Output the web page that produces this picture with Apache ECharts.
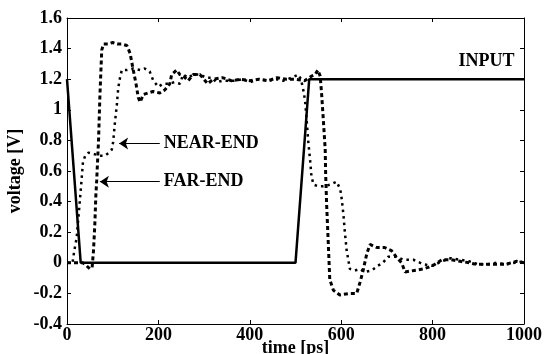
<!DOCTYPE html>
<html>
<head>
<meta charset="utf-8">
<script src="https://cdn.jsdelivr.net/npm/echarts@6/dist/echarts.min.js"></script>
<style>
html,body{margin:0;padding:0;background:#fff;}
#c{width:551px;height:354px;}
</style>
</head>
<body>
<div id="c"></div>
<script>
// ---- data (time [ps], voltage [V]) ----
const inputWave = [[0,1.2],[30,0],[500,0],[530,1.2],[1000,1.2]];

const nearEnd = [
  [0,0],[12,0],[16,0.08],[21,0.16],[26,0.33],[31,0.51],[35,0.66],[40,0.70],[47,0.72],
  [60,0.71],[72,0.70],[83,0.70],[92,0.72],[98,0.74],[101,0.79],[105,0.92],[109,1.03],
  [112,1.14],[116,1.21],[120,1.26],[131,1.26],[145,1.27],[160,1.26],[170,1.27],[181,1.25],
  [189,1.19],[200,1.15],[210,1.17],[221,1.17],[235,1.18],[247,1.17],[254,1.23],[265,1.21],
  [276,1.23],[290,1.23],[305,1.21],[317,1.21],[327,1.18],[340,1.19],[349,1.19],[368,1.19],
  [385,1.20],[400,1.18],[420,1.20],[440,1.19],[460,1.20],[473,1.19],[492,1.21],[506,1.23],
  [512,1.20],[517,1.13],[521,1.06],[525,0.91],[528,0.79],[532,0.67],[535,0.56],[540,0.51],
  [550,0.50],[561,0.50],[575,0.51],[590,0.53],[598,0.48],[601,0.42],[605,0.31],[608,0.20],
  [612,0.08],[619,-0.04],[630,-0.05],[641,-0.04],[652,-0.06],[667,-0.05],[680,-0.02],
  [691,0.00],[703,0.04],[721,0.04],[736,0.02],[758,0.02],[780,-0.01],[800,-0.02],[820,0.01],
  [840,0.03],[860,0.02],[880,0.01],[900,-0.01],[920,-0.01],[940,0.00],[960,-0.01],[980,0.00],
  [1000,0.01]
];

const farEnd = [
  [0,0],[35,0],[43,-0.02],[50,-0.04],[55,-0.03],[58,0.08],[61,0.26],[63,0.43],[65,0.54],
  [67,0.67],[69,0.80],[72,1.09],[76,1.39],[80,1.43],[90,1.43],[100,1.44],[110,1.43],
  [120,1.43],[131,1.42],[138,1.37],[145,1.26],[151,1.17],[156,1.08],[160,1.05],[167,1.10],
  [177,1.11],[188,1.12],[203,1.11],[214,1.13],[225,1.17],[229,1.23],[240,1.26],[247,1.23],
  [255,1.22],[265,1.19],[276,1.23],[291,1.23],[308,1.17],[320,1.20],[340,1.21],[360,1.19],
  [380,1.20],[400,1.19],[420,1.20],[440,1.19],[460,1.21],[480,1.20],[500,1.20],[520,1.19],
  [535,1.22],[543,1.23],[549,1.26],[554,1.22],[557,1.11],[561,0.93],[565,0.74],[566,0.58],
  [568,0.39],[572,0.11],[575,-0.11],[583,-0.18],[597,-0.21],[619,-0.20],[634,-0.20],
  [641,-0.13],[648,-0.05],[656,0.06],[663,0.12],[678,0.10],[695,0.10],[710,0.08],[720,0.04],
  [732,0.00],[740,-0.06],[760,-0.05],[780,-0.04],[790,-0.03],[805,-0.01],[820,0.02],
  [840,0.02],[860,0.01],[880,0.00],[896,-0.01],[920,-0.01],[940,-0.01],[960,-0.01],
  [984,0.01],[1000,0.00]
];

// annotation anchors: [arrow tip, arrow tail] in data coordinates
const nearArrow = [[114,0.78],[203,0.78]];
const farArrow  = [[72,0.53],[203,0.53]];
const inputLabelPos = [918,1.316];

const xTicks = {min:0, max:1000, interval:200};
const yTicks = {min:-0.4, max:1.6, interval:0.2};

const FONT = '"Liberation Serif", "Times New Roman", serif';
const txt = {fontFamily:FONT, fontWeight:'bold', color:'#000', fontSize:18};

const chart = echarts.init(document.getElementById('c'), null, {renderer:'canvas'});

const axisCommon = {
  axisLine:{show:true, onZero:false, lineStyle:{color:'#000', width:1}},
  axisTick:{show:true, inside:true, length:4, lineStyle:{color:'#000', width:1}},
  splitLine:{show:false}
};

chart.setOption({
  animation:false,
  backgroundColor:'#fff',
  grid:{left:67, right:27, top:18, bottom:30, containLabel:false, outerBoundsMode:'none'},
  xAxis:[
    Object.assign({type:'value', position:'bottom', min:xTicks.min, max:xTicks.max, interval:xTicks.interval,
      name:'time [ps]', nameLocation:'middle', nameGap:15, nameMoveOverlap:false,
      nameTextStyle:Object.assign({}, txt, {fontSize:18}),
      axisLabel:Object.assign({}, txt, {margin:2, formatter:function(v){return String(v);}})}, axisCommon),
    Object.assign({type:'value', position:'top', min:xTicks.min, max:xTicks.max, interval:xTicks.interval,
      axisLabel:{show:false}}, axisCommon)
  ],
  yAxis:[
    Object.assign({type:'value', position:'left', min:yTicks.min, max:yTicks.max, interval:yTicks.interval,
      name:'voltage [V]', nameLocation:'middle', nameGap:43, nameMoveOverlap:false,
      nameTextStyle:Object.assign({}, txt, {fontSize:18}),
      axisLabel:Object.assign({}, txt, {margin:5})}, axisCommon),
    Object.assign({type:'value', position:'right', min:yTicks.min, max:yTicks.max, interval:yTicks.interval,
      axisLabel:{show:false}}, axisCommon)
  ],
  series:[
    {
      name:'NEAR-END', type:'line', data:nearEnd, showSymbol:false, symbol:'none',
      lineStyle:{color:'#000', width:2.5, type:[2.5,4], cap:'butt'},
      z:3,
      markLine:{
        silent:true, symbol:['arrow','none'], symbolSize:9,
        lineStyle:{color:'#000', width:1, type:'solid'},
        label:{show:true, position:'end', distance:4, formatter:'NEAR-END', fontFamily:FONT, fontWeight:'bold', fontSize:18, color:'#000'},
        data:[[{coord:nearArrow[0]},{coord:nearArrow[1]}]]
      }
    },
    {
      name:'FAR-END', type:'line', data:farEnd, showSymbol:false, symbol:'none',
      lineStyle:{color:'#000', width:3, type:[4,3], cap:'butt'},
      z:4,
      markLine:{
        silent:true, symbol:['arrow','none'], symbolSize:9,
        lineStyle:{color:'#000', width:1, type:'solid'},
        label:{show:true, position:'end', distance:4, formatter:'FAR-END', fontFamily:FONT, fontWeight:'bold', fontSize:18, color:'#000'},
        data:[[{coord:farArrow[0]},{coord:farArrow[1]}]]
      }
    },
    {
      name:'INPUT', type:'line', data:inputWave, showSymbol:false, symbol:'none',
      lineStyle:{color:'#000', width:2.5, type:'solid'},
      z:5,
      markPoint:{
        silent:true, symbol:'circle', symbolSize:1, itemStyle:{color:'rgba(0,0,0,0)'},
        label:{show:true, position:'inside', formatter:'INPUT', fontFamily:FONT, fontWeight:'bold', fontSize:18, color:'#000'},
        data:[{coord:inputLabelPos}]
      }
    }
  ]
});
</script>
</body>
</html>
